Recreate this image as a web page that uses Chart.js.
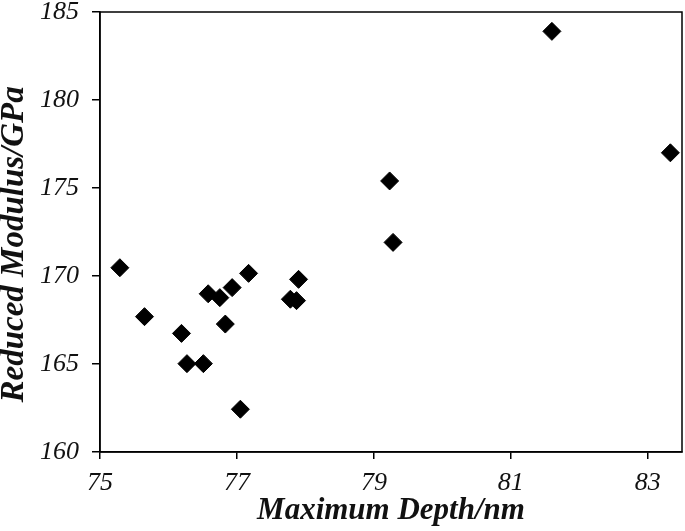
<!DOCTYPE html>
<html>
<head>
<meta charset="utf-8">
<script src="https://cdn.jsdelivr.net/npm/chart.js@4/dist/chart.umd.min.js"></script>
<style>
  body { margin: 0; background: #fff; }
  #wrap { width: 685px; height: 531px; }
</style>
</head>
<body>
<div id="wrap"><canvas id="chart" width="685" height="531"></canvas></div>
<script>
// Maximum depth (nm) and reduced modulus (GPa)
const depthNm = [75.29, 75.65, 76.19, 76.27, 76.51, 76.58, 76.75, 76.83, 76.93, 77.05,
                 77.17, 77.78, 77.87, 77.90, 79.23, 79.28, 81.60, 83.33];
const modulusGPa = [170.47, 167.69, 166.74, 165.02, 165.02, 168.99, 168.77, 167.27, 169.34, 162.43,
                    170.15, 168.68, 168.60, 169.81, 175.40, 171.91, 183.90, 177.00];

const xTicks = [75, 77, 79, 81, 83];
const yTicks = [160, 165, 170, 175, 180, 185];

const xTitle = "Maximum Depth/nm";
const yTitle = "Reduced Modulus/GPa   "; // trailing spaces nudge it down a little, like the original

const points = depthNm.map((d, i) => ({ x: d, y: modulusGPa[i] }));

// draws the box round the plot area (top and right sides)
const frameBox = {
  id: "frameBox",
  afterDatasetsDraw(chart) {
    const { ctx, chartArea } = chart;
    ctx.save();
    ctx.strokeStyle = "#000";
    ctx.lineWidth = 1.5;
    ctx.strokeRect(chartArea.left, chartArea.top, chartArea.right - chartArea.left, chartArea.bottom - chartArea.top);
    ctx.restore();
  }
};

const tickFont = { family: "'Liberation Serif', serif", size: 26, style: "italic", lineHeight: 0.92 };
const xTitleFont = { family: "'Liberation Serif', serif", size: 31, style: "italic", weight: "bold", lineHeight: 1 };
const yTitleFont = { family: "'Liberation Serif', serif", size: 33, style: "italic", weight: "bold", lineHeight: 1 };

new Chart(document.getElementById("chart").getContext("2d"), {
  type: "scatter",
  data: {
    datasets: [{
      data: points,
      pointStyle: "rectRot",
      pointRadius: 9,
      pointHoverRadius: 9,
      backgroundColor: "#000",
      borderColor: "#000",
      borderWidth: 1,
      clip: false
    }]
  },
  options: {
    responsive: false,
    animation: false,
    layout: { autoPadding: false, padding: { left: 0, right: 3, top: 12, bottom: 0 } },
    plugins: {
      legend: { display: false },
      tooltip: { enabled: false }
    },
    scales: {
      x: {
        type: "linear",
        min: 75,
        max: 83.5,
        afterBuildTicks: scale => { scale.ticks = xTicks.map(v => ({ value: v })); },
        afterFit: scale => {
          scale.height = 79;
          scale.paddingLeft = 0;
          scale.paddingRight = 0;
        },
        grid: { display: true, drawOnChartArea: false, drawTicks: true, tickLength: 7, color: "#000", lineWidth: 1.5 },
        border: { display: true, color: "#000", width: 1.5 },
        ticks: { font: tickFont, color: "#111", padding: 12, maxRotation: 0 },
        title: { display: true, text: xTitle, font: xTitleFont, color: "#111", padding: { top: 0, bottom: 5 } }
      },
      y: {
        type: "linear",
        min: 160,
        max: 185,
        afterBuildTicks: scale => { scale.ticks = yTicks.map(v => ({ value: v })); },
        afterFit: scale => {
          scale.width = 100;
          scale.paddingTop = 0;
          scale.paddingBottom = 0;
        },
        grid: { display: true, drawOnChartArea: false, drawTicks: true, tickLength: 8, color: "#000", lineWidth: 1.5 },
        border: { display: true, color: "#000", width: 1.5 },
        ticks: { font: tickFont, color: "#111", padding: 13 },
        title: { display: true, text: yTitle, font: yTitleFont, color: "#111", padding: { top: -2, bottom: 0 } }
      }
    }
  },
  plugins: [frameBox]
});
</script>
</body>
</html>
